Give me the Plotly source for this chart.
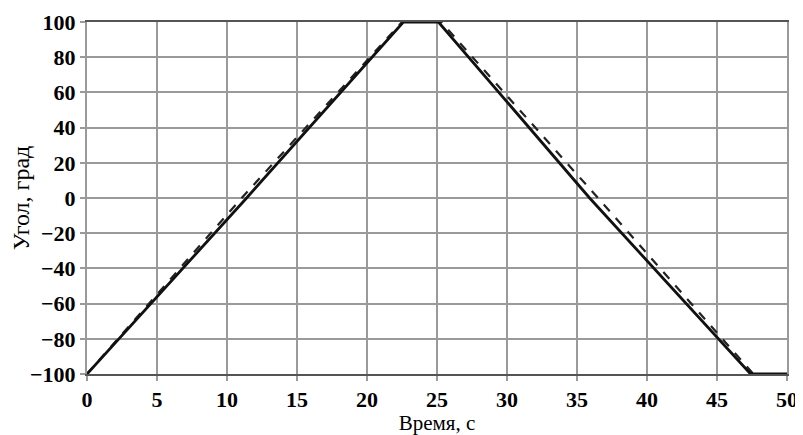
import plotly.graph_objects as go

# Data
solid_t = [0, 11.4, 22.6, 25.1, 35.9, 47.4, 50]
solid_angle = [-100, 0, 100, 100, 0, -100, -100]
dashed_t = [0, 11.05, 22.5, 25.3, 36.5, 47.6, 50]
dashed_angle = [-100, 0, 100, 100, 0, -100, -100]

x_ticks = [0, 5, 10, 15, 20, 25, 30, 35, 40, 45, 50]
y_ticks = [-100, -80, -60, -40, -20, 0, 20, 40, 60, 80, 100]

fig = go.Figure()
fig.add_trace(go.Scatter(x=dashed_t, y=dashed_angle, mode="lines",
                         line=dict(color="#222222", width=2.2, dash="dash"),
                         showlegend=False, cliponaxis=False))
fig.add_trace(go.Scatter(x=solid_t, y=solid_angle, mode="lines",
                         line=dict(color="#111111", width=2.8),
                         showlegend=False, cliponaxis=False))

font_family = "Liberation Serif, Times New Roman, serif"
# page body has an 8px default margin, so the figure is sized to fit the 803x435 window
fig.update_layout(
    width=795, height=427,
    margin=dict(l=79, r=16, t=14, b=61, autoexpand=False),
    paper_bgcolor="white", plot_bgcolor="white",
    font=dict(family=font_family, color="black"),
)
fig.update_xaxes(
    automargin=False,
    range=[0, 50], tickvals=x_ticks, ticktext=[str(v) for v in x_ticks],
    showgrid=True, gridcolor="#9a9a9a", gridwidth=2,
    zeroline=False, showline=True, linecolor="#555555", linewidth=2, mirror=True,
    ticks="outside", ticklen=5, tickcolor="#9a9a9a", tickwidth=2,
    tickfont=dict(family=font_family, size=22, color="black", weight="bold"),
    title=dict(text="Время, с", font=dict(family=font_family, size=21, color="black"), standoff=0),
)
fig.update_yaxes(
    automargin=False,
    range=[-100, 100], tickvals=y_ticks, ticktext=[str(v).replace("-", "−") for v in y_ticks],
    showgrid=True, gridcolor="#9a9a9a", gridwidth=2,
    zeroline=False, showline=True, linecolor="#9a9a9a", linewidth=2, mirror=True,
    ticks="outside", ticklen=5, tickcolor="#9a9a9a", tickwidth=2,
    tickfont=dict(family=font_family, size=22, color="black", weight="bold"),
    title=dict(text="Угол, град", font=dict(family=font_family, size=24, color="black"), standoff=2),
)

fig.write_html("out.html")
